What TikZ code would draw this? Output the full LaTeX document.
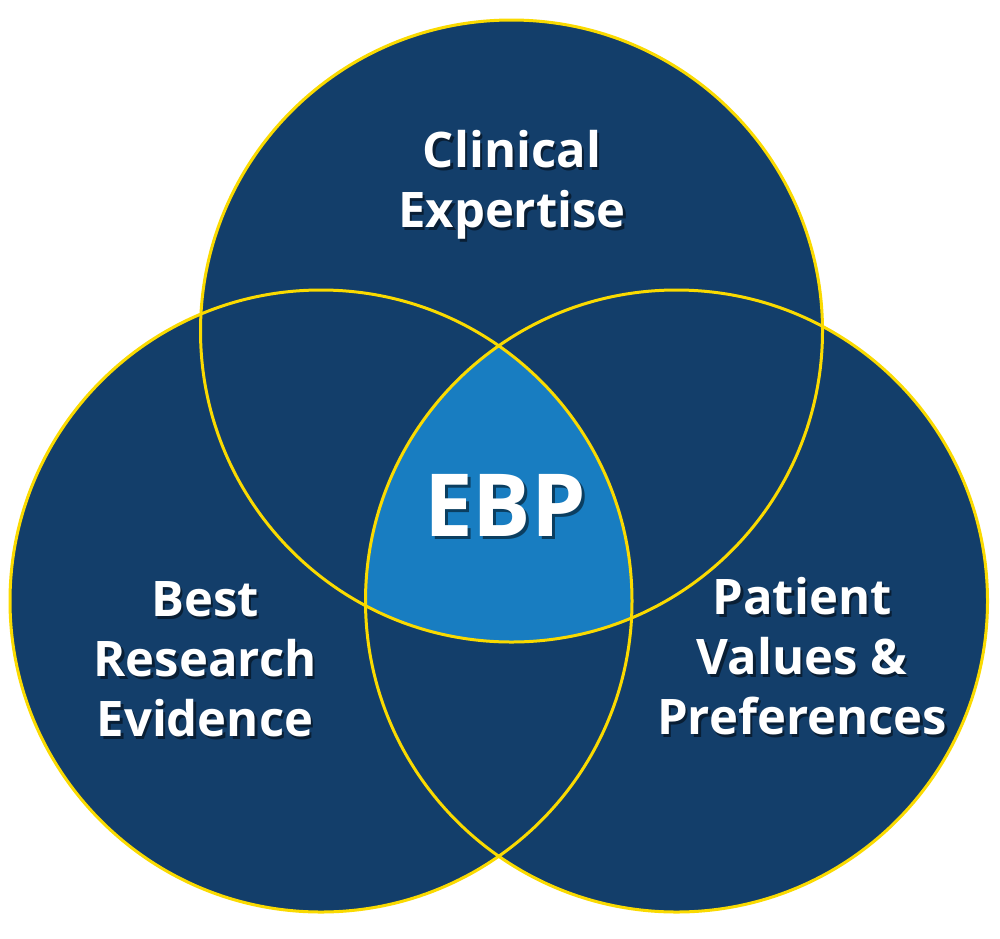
\documentclass[tikz,border=0pt]{standalone}
\usepackage{fontspec}
\setmainfont{Open Sans}
\definecolor{navy}{RGB}{19,62,106}
\definecolor{ebpblue}{RGB}{24,125,193}
\definecolor{ring}{RGB}{250,218,0}
\begin{document}
\begin{tikzpicture}[x=1pt,y=-1pt,
  lbl/.style={font=\fontsize{49}{60}\selectfont\bfseries, text=white, align=center, inner sep=0pt, anchor=base},
  lblshadow/.style={lbl, text=black, text opacity=0.5},
  big/.style={font=\fontsize{87}{90}\selectfont\bfseries, text=white, inner sep=0pt, anchor=base},
  bigshadow/.style={big, text=black, text opacity=0.5},
  ringline/.style={draw=ring, line width=3pt}]
\useasboundingbox[fill=white] (0,0) rectangle (1000,938);
\def\rr{311}
\coordinate (T) at (511.5,331);
\coordinate (L) at (321,601);
\coordinate (R) at (676.5,601);
% fills
\fill[navy] (T) circle (\rr);
\fill[navy] (L) circle (\rr);
\fill[navy] (R) circle (\rr);
\begin{scope}
  \clip (T) circle (\rr);
  \clip (L) circle (\rr);
  \fill[ebpblue] (R) circle (\rr);
\end{scope}
% rings
\draw[ringline] (T) circle (\rr);
\draw[ringline] (L) circle (\rr);
\draw[ringline] (R) circle (\rr);
% labels with shadows
\node[lblshadow] (clinS) at (514.5,230) {Clinical\\Expertise};
\node[lbl] (clin) at (512,227) {Clinical\\Expertise};
\node[lblshadow] (bestS) at (207.5,739) {Best\\Research\\Evidence};
\node[lbl] (best) at (205,736) {Best\\Research\\Evidence};
\node[lblshadow] (patS) at (804.5,737) {Patient\\Values \&\\Preferences};
\node[lbl] (pat) at (802,734) {Patient\\Values \&\\Preferences};
\node[bigshadow] (ebpS) at (508,539) {EBP};
\node[big] (ebp) at (505,536) {EBP};
\end{tikzpicture}
\end{document}
